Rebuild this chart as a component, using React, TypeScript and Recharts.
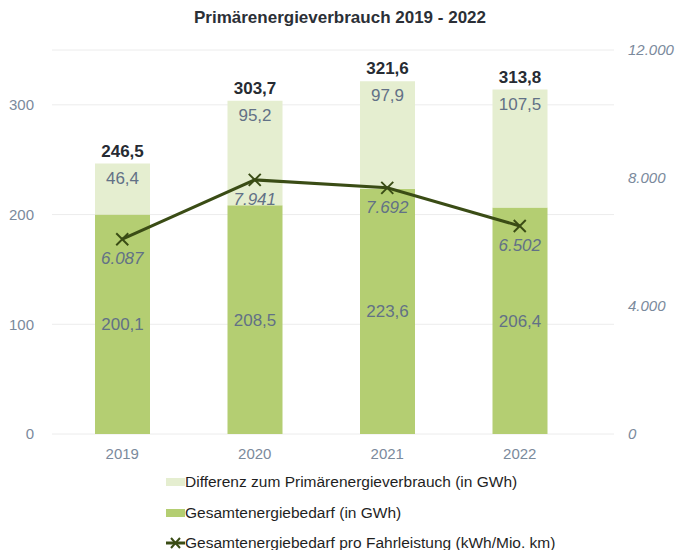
import React from 'react';
import { ComposedChart, Bar, Line, XAxis, YAxis, CartesianGrid, LabelList } from 'recharts';

const years = ['2019', '2020', '2021', '2022'];
const gesamtGWh = [200.1, 208.5, 223.6, 206.4];
const differenzGWh = [46.4, 95.2, 97.9, 107.5];
const primaerGWh = [246.5, 303.7, 321.6, 313.8];
const proFahrleistung = [6087, 7941, 7692, 6502];
const leftTicks = [0, 100, 200, 300];
const rightTicks = [0, 4000, 8000, 12000];

const data = years.map((y, i) => ({
  year: y,
  gesamt: gesamtGWh[i],
  differenz: differenzGWh[i],
  total: primaerGWh[i],
  pro: proFahrleistung[i],
}));

const DARK = '#b4ce72';
const LIGHT = '#e5eed0';
const LINE = '#3a4c15';
const TICK = '#7b8a9c';
const LABEL = '#627186';
const FONT = '"Liberation Sans", Arial, sans-serif';

const fmt1 = (v: number) => v.toFixed(1).replace('.', ',');
const fmtThousands = (v: number) => {
  const s = Math.round(v).toString();
  return s.replace(/\B(?=(\d{3})+(?!\d))/g, '.');
};

const XDot = (props: any) => {
  const { cx, cy } = props;
  if (cx == null || cy == null) return null;
  const s = 6;
  return (
    <g>
      <line x1={cx - s} y1={cy - s} x2={cx + s} y2={cy + s} stroke={LINE} strokeWidth={2} />
      <line x1={cx - s} y1={cy + s} x2={cx + s} y2={cy - s} stroke={LINE} strokeWidth={2} />
    </g>
  );
};

const TotalLabel = (props: any) => {
  const { x, y, width, value } = props;
  return (
    <text x={x + width / 2} y={y - 7} textAnchor="middle" fill="#262b33" fontSize={17} fontWeight="bold" fontFamily={FONT}>
      {fmt1(Number(value))}
    </text>
  );
};

const DiffLabel = (props: any) => {
  const { x, y, width, value } = props;
  return (
    <text x={x + width / 2} y={y + 20} textAnchor="middle" fill={LABEL} fontSize={17} fontFamily={FONT}>
      {fmt1(Number(value))}
    </text>
  );
};

const LineLabel = (props: any) => {
  const { x, y, value } = props;
  return (
    <text x={x} y={y + 25} textAnchor="middle" fill={LABEL} fontSize={17} fontStyle="italic" fontFamily={FONT}>
      {fmtThousands(Number(value))}
    </text>
  );
};

const LegendBlock = () => {
  const items = [
    { label: 'Differenz zum Primärenergieverbrauch (in GWh)', type: 'rect', color: LIGHT },
    { label: 'Gesamtenergiebedarf (in GWh)', type: 'rect', color: DARK },
    { label: 'Gesamtenergiebedarf pro Fahrleistung (kWh/Mio. km)', type: 'line', color: LINE },
  ];
  return (
    <div style={{ position: 'absolute', left: 166, top: 467, fontFamily: FONT, fontSize: 15.5, color: '#1f1f1f' }}>
      {items.map((it) => (
        <div key={it.label} style={{ display: 'flex', alignItems: 'center', height: 30.5, whiteSpace: 'nowrap' }}>
          <svg width={19} height={12}>
            {it.type === 'rect' ? (
              <rect x={0} y={2} width={19} height={8} fill={it.color} />
            ) : (
              <g>
                <line x1={0} y1={6} x2={19} y2={6} stroke={it.color} strokeWidth={3} />
                <line x1={5} y1={1} x2={14} y2={11} stroke={it.color} strokeWidth={2} />
                <line x1={5} y1={11} x2={14} y2={1} stroke={it.color} strokeWidth={2} />
              </g>
            )}
          </svg>
          <span>{it.label}</span>
        </div>
      ))}
    </div>
  );
};

export default function App() {
  return (
    <div style={{ position: 'absolute', left: 0, top: 0, width: 680, height: 550, background: '#fff' }}>
      <div
        style={{
          position: 'absolute',
          left: 0,
          top: 8,
          width: 680,
          textAlign: 'center',
          fontFamily: FONT,
          fontWeight: 'bold',
          fontSize: 17,
          color: '#2b2f36',
        }}
      >
        Primärenergieverbrauch 2019 - 2022
      </div>
      <ComposedChart
        width={680}
        height={550}
        data={data}
        margin={{ top: 50, right: 0, bottom: 86, left: 0 }}
      >
        <CartesianGrid horizontal vertical={false} stroke="#ececec" yAxisId="left" />
        <XAxis
          dataKey="year"
          height={30}
          axisLine={false}
          tickLine={false}
          tick={{ fill: TICK, fontSize: 15, fontFamily: FONT }}
          tickMargin={8}
          padding={{ left: 4, right: 28 }}
        />
        <YAxis
          yAxisId="left"
          orientation="left"
          width={52}
          domain={[0, 350]}
          ticks={leftTicks}
          axisLine={false}
          tickLine={false}
          tickMargin={12}
          tick={{ fill: TICK, fontSize: 15, fontFamily: FONT }}
        />
        <YAxis
          yAxisId="right"
          orientation="right"
          width={66}
          domain={[0, 12000]}
          ticks={rightTicks}
          axisLine={false}
          tickLine={false}
          tickMargin={8}
          tickFormatter={(v: number) => fmtThousands(v)}
          tick={{ fill: TICK, fontSize: 15, fontFamily: FONT, fontStyle: 'italic' }}
        />
        <Bar yAxisId="left" dataKey="gesamt" stackId="a" fill={DARK} barSize={55} isAnimationActive={false}>
          <LabelList
            dataKey="gesamt"
            position="center"
            formatter={(v: any) => fmt1(Number(v))}
            fill={LABEL}
            fontSize={17}
            fontFamily={FONT}
          />
        </Bar>
        <Bar yAxisId="left" dataKey="differenz" stackId="a" fill={LIGHT} barSize={55} isAnimationActive={false}>
          <LabelList dataKey="differenz" content={DiffLabel} />
          <LabelList dataKey="total" content={TotalLabel} />
        </Bar>
        <Line
          yAxisId="right"
          dataKey="pro"
          stroke={LINE}
          strokeWidth={3}
          dot={<XDot />}
          activeDot={false}
          isAnimationActive={false}
        >
          <LabelList dataKey="pro" content={LineLabel} />
        </Line>
      </ComposedChart>
      <LegendBlock />
    </div>
  );
}
